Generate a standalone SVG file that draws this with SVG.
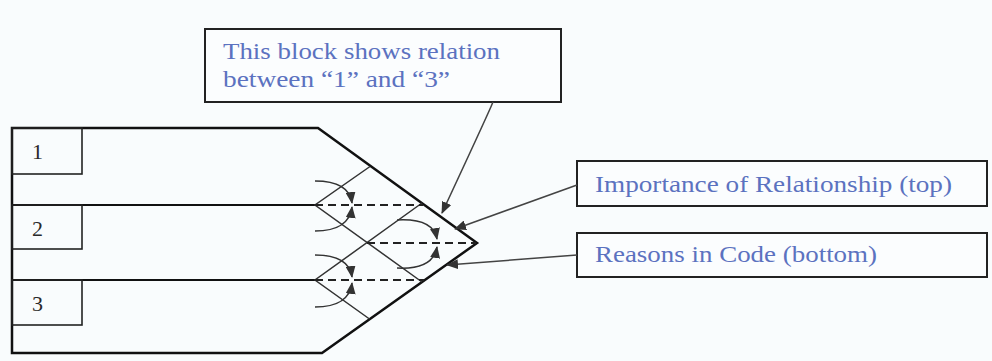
<svg xmlns="http://www.w3.org/2000/svg" width="992" height="361" viewBox="0 0 992 361">
<style>
.outer{fill:none;stroke:#111;stroke-width:2.5;stroke-linejoin:miter}
.band{fill:none;stroke:#111;stroke-width:2}
.box{fill:none;stroke:#222;stroke-width:1.6}
.lbox{fill:#fbfdfe;stroke:#222;stroke-width:2}
.lat{fill:none;stroke:#333;stroke-width:1.5}
.dash{fill:none;stroke:#222;stroke-width:1.8;stroke-dasharray:8 5}
.arc{fill:none;stroke:#333;stroke-width:1.5;marker-end:url(#ah)}
.conn{fill:none;stroke:#444;stroke-width:1.5;marker-end:url(#ah)}
.num{font-family:"Liberation Serif",serif;font-size:22px;fill:#2a2a2a}
.lbl{font-family:"Liberation Serif",serif;font-size:23px;fill:#5b72c0}
</style>
<defs>
<marker id="ah" viewBox="0 0 12 10" refX="11" refY="5" markerWidth="12" markerHeight="10" markerUnits="userSpaceOnUse" orient="auto">
<path d="M0,0 L12,5 L0,10 Z" fill="#333"/>
</marker>
</defs>
<rect x="0" y="0" width="992" height="361" fill="#f9fcfd"/>
<g id="frame">
<polygon class="outer" points="12,128 318,128 477,243 322,353 12,353"/>
<line class="band" x1="12" y1="205" x2="315" y2="205"/>
<line class="band" x1="12" y1="280" x2="315" y2="280"/>
</g>
<g id="row1">
<rect class="box" x="12" y="128" width="70" height="46"/>
<text class="num" x="32" y="159">1</text>
</g>
<g id="row2">
<rect class="box" x="12" y="205" width="70" height="44"/>
<text class="num" x="32" y="236">2</text>
</g>
<g id="row3">
<rect class="box" x="12" y="280" width="70" height="45"/>
<text class="num" x="32" y="311">3</text>
</g>
<g id="lattice">
<polyline class="lat" points="370,166.5 315,205 422,282"/>
<polyline class="lat" points="422,203 315,280 369.5,319"/>
<line class="dash" x1="315" y1="205" x2="423" y2="205"/>
<line class="dash" x1="367" y1="243" x2="476" y2="243"/>
<line class="dash" x1="315" y1="280" x2="424" y2="280"/>
<path class="arc" d="M315,181 Q349,181 352,203"/>
<path class="arc" d="M315,231 Q349,231 352,207"/>
<path class="arc" d="M397,220 Q433,218 437,239"/>
<path class="arc" d="M397,268 Q433,270 437,247"/>
<path class="arc" d="M315,255 Q349,255 352,277"/>
<path class="arc" d="M315,307 Q349,307 352,283"/>
</g>
<g id="note-block">
<rect class="lbox" x="205" y="29" width="356" height="73"/>
<text class="lbl" x="223" y="59" textLength="277" lengthAdjust="spacingAndGlyphs">This block shows relation</text>
<text class="lbl" x="223" y="87" textLength="227" lengthAdjust="spacingAndGlyphs">between “1” and “3”</text>
</g>
<g id="note-top">
<rect class="lbox" x="577" y="161" width="410" height="45"/>
<text class="lbl" x="595" y="192" textLength="357" lengthAdjust="spacingAndGlyphs">Importance of Relationship (top)</text>
</g>
<g id="note-bottom">
<rect class="lbox" x="577" y="233" width="410" height="44"/>
<text class="lbl" x="595" y="262" textLength="282" lengthAdjust="spacingAndGlyphs">Reasons in Code (bottom)</text>
</g>
<g id="connectors">
<path class="conn" d="M493,102 Q489,112 442,213"/>
<path class="conn" d="M577,185 L455,229"/>
<path class="conn" d="M577,255 L447,265"/>
</g>
</svg>
